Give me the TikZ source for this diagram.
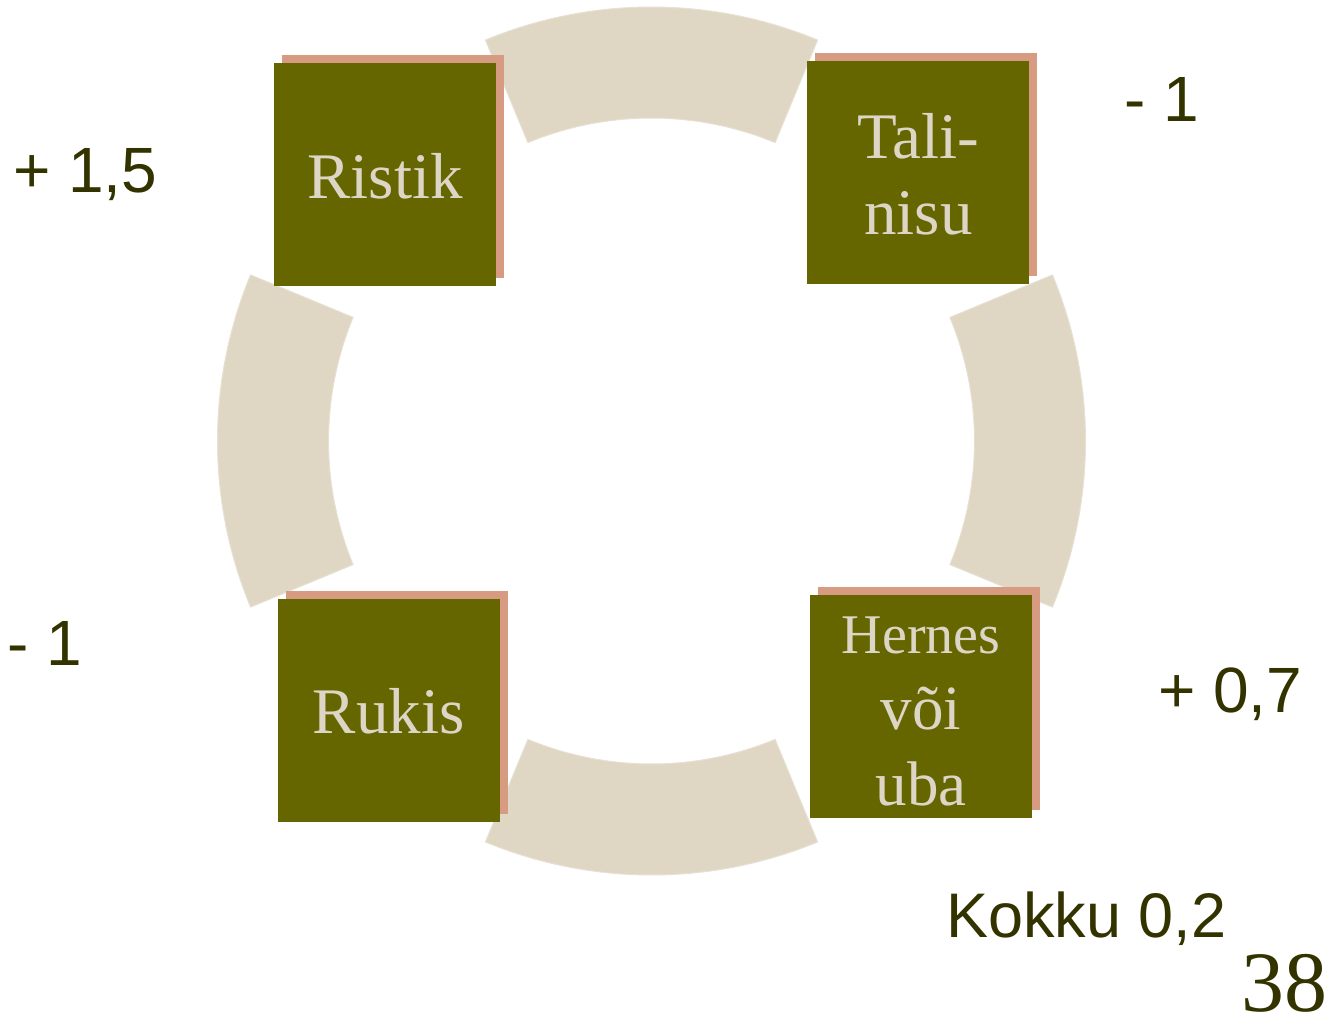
\documentclass[tikz,border=0pt]{standalone}
\usepackage{fontspec}
\setmainfont{Liberation Serif}
\newfontfamily\arialf{Liberation Sans}
\usetikzlibrary{shadows}
\definecolor{olivebox}{HTML}{666600}
\definecolor{shadowc}{HTML}{D79B82}
\definecolor{ringc}{HTML}{DFD7C4}
\definecolor{ringedge}{HTML}{E7E1D3}
\definecolor{boxtext}{HTML}{DDD6C6}
\definecolor{labelc}{HTML}{333300}
\tikzset{
  ringseg/.style={fill=ringc, draw=ringedge, line width=1pt},
  cropbox/.style={fill=olivebox, minimum width=222pt, minimum height=223pt, inner sep=0pt, outer sep=0pt,
    drop shadow={shadow xshift=8pt, shadow yshift=8pt, fill=shadowc, opacity=1}},
  boxlabel/.style={text=boxtext, inner sep=0pt, align=center, anchor=base},
  sumlabel/.style={text=labelc, font=\arialf\fontsize{64}{70}\selectfont, inner sep=0pt, anchor=base west},
}
\begin{document}
\begin{tikzpicture}[x=1pt,y=-1pt]
\useasboundingbox (0,0) rectangle (1331,1020);
\coordinate (c) at (651.5,441);
\foreach \a in {0,90,180,270}{
  \path[ringseg] ([shift={(\a-22.5:434)}]c) arc[start angle=\a-22.5, end angle=\a+22.5, radius=434]
    -- ([shift={(\a+22.5:323)}]c) arc[start angle=\a+22.5, end angle=\a-22.5, radius=323] -- cycle;
}
\node[cropbox] (ristik) at (385,174.3) {};
\node[cropbox] (tali) at (918.3,172.3) {};
\node[cropbox] (rukis) at (388.5,710.5) {};
\node[cropbox] (hernes) at (920.8,706.3) {};

\node[boxlabel, font=\rmfamily\fontsize{65}{76}\selectfont] (tristik) at (385,198) {Ristik};
\node[boxlabel, font=\rmfamily\fontsize{65}{76}\selectfont] (ttali) at (918.5,234) {Tali-\\nisu};
\node[boxlabel, font=\rmfamily\fontsize{65}{76}\selectfont] (trukis) at (388.5,733) {Rukis};
\node[boxlabel, font=\rmfamily\fontsize{63}{76}\selectfont] (thernes) at (921,805)
  {{\fontsize{56}{76}\selectfont Hernes}\\või\\uba};

\node[sumlabel] (l1) at (13,192) {+ 1,5};
\node[sumlabel] (l2) at (1124,121) {- 1};
\node[sumlabel] (l3) at (7,665) {- 1};
\node[sumlabel] (l4) at (1158,712) {+ 0,7};
\node[sumlabel, font=\arialf\fontsize{63}{70}\selectfont] (l5) at (946,937) {Kokku 0,2};
\node[text=labelc, font=\rmfamily\fontsize{86}{90}\selectfont, inner sep=0pt, anchor=base west] (page) at (1241,1011) {38};
\end{tikzpicture}
\end{document}
